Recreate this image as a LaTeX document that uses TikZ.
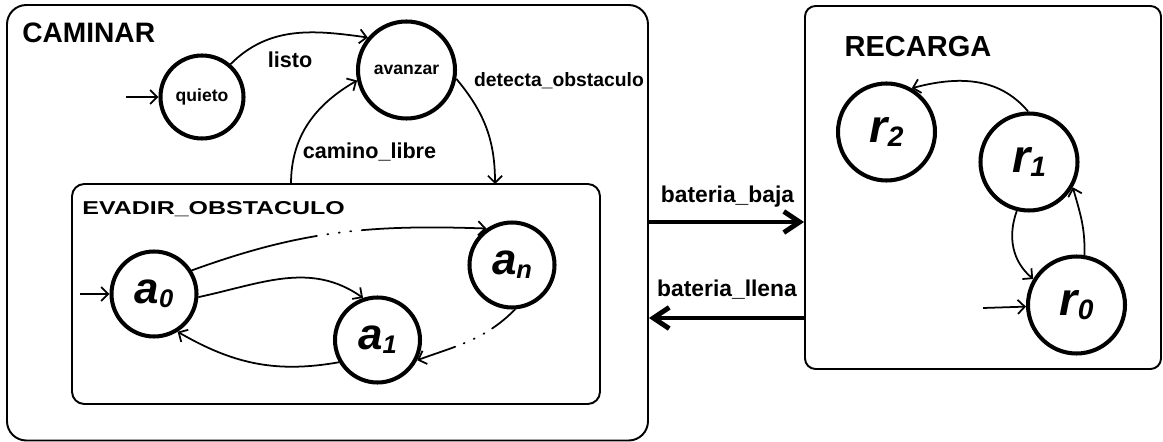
\documentclass[tikz,border=0pt]{standalone}
\usepackage{fontspec}
\setmainfont{Liberation Sans}
\usepackage{tikz}
\usetikzlibrary{arrows.meta,positioning,calc}
\tikzstyle{estado}=[draw,circle,line width=2.3pt,inner sep=0pt]
\tikzstyle{caja}=[draw,line width=1.1pt,inner sep=0pt]
\tikzstyle{trans}=[line width=1pt,-{Straight Barb[length=4pt,width=8pt]}]
\tikzstyle{cambio}=[line width=2.8pt,-{Straight Barb[length=9pt,width=12pt]}]
\tikzstyle{etiq}=[anchor=base,inner sep=0pt,font=\bfseries\fontsize{12.3}{14}\selectfont]
\tikzstyle{titulo}=[inner sep=0pt,font=\bfseries\fontsize{16}{18}\selectfont]
\newcommand{\esta}[1]{{\fontsize{25}{25}\selectfont\bfseries\itshape a\raisebox{-2.3pt}{\fontsize{14.5}{14.5}\selectfont #1}}}
\newcommand{\estr}[1]{{\fontsize{26.5}{26.5}\selectfont\bfseries\itshape r\raisebox{-2.3pt}{\fontsize{16}{16}\selectfont #1}}}

\begin{document}
\begin{tikzpicture}
\useasboundingbox (0,0) rectangle (23.26,-8.84);

% cajas de los estados compuestos
\node [caja,rounded corners=11pt,minimum width=12.82cm,minimum height=8.71cm] (caminar) at (6.55,-4.455) {};
\node [caja,rounded corners=7pt,minimum width=10.56cm,minimum height=4.40cm] (evadir) at (6.72,-5.88) {};
\node [caja,rounded corners=6pt,minimum width=7.12cm,minimum height=7.26cm] (recarga) at (19.66,-3.75) {};
\node [titulo,anchor=west] at (0.44,-0.66) {CAMINAR};
\node [titulo,font=\bfseries\fontsize{16.5}{18}\selectfont] at (18.36,-0.93) {RECARGA};
\node [anchor=base west,inner sep=0pt,font=\bfseries\fontsize{10.6}{12}\selectfont] at (1.64,-4.30) {\scalebox{1.34}[1]{EVADIR\_OBSTACULO}};

% CAMINAR
\node [estado,minimum size=1.66cm,font=\bfseries\fontsize{10}{12}\selectfont] (quieto) at (4.04,-1.94) {quieto};
\node [estado,minimum size=1.94cm,font=\bfseries\fontsize{10}{12}\selectfont] (avanzar) at (8.13,-1.40) {avanzar};
\coordinate (q0) at (2.52,-1.94);
\coordinate (libre) at (5.82,-3.68);
\coordinate (obst) at (9.90,-3.68);
\draw [trans] (q0) -- (quieto);
\draw [trans] (quieto.49) to[out=45,in=172] (avanzar.140);
\draw [trans] (libre) to[out=90,in=210] (avanzar.192);
\draw [trans] (avanzar.-10) to[out=-50,in=90] (obst);
\node [etiq] at (5.80,-1.36) {listo};
\node [etiq] at (7.39,-3.18) {camino\_libre};
\node [etiq,font=\bfseries\fontsize{11}{13}\selectfont] at (11.18,-1.74) {detecta\_obstaculo};

% EVADIR_OBSTACULO
\node [estado,minimum size=1.7cm] (a0) at (3.08,-5.88) {\esta{0}};
\node [estado,minimum size=1.7cm] (a1) at (7.55,-6.80) {\esta{1}};
\node [estado,minimum size=1.7cm] (an) at (10.24,-5.30) {\esta{n}};
\coordinate (a0i) at (1.60,-5.88);
\draw [trans] (a0i) -- (a0);
\draw [trans] (a0.-4) to[out=12,in=145] (a1.109);
\draw [trans] (a1.210) to[out=190,in=-30] (a0.-58);
\draw [trans,line cap=round,dash pattern=on 2.6cm off 0.21cm on 0.6pt off 0.21cm on 0.6pt off 0.21cm on 0.6pt off 0.21cm on 5cm]
  (a0.32) to[out=20,in=178] (an.125);
\draw [trans,line cap=round,dash pattern=on 0.6cm off 0.18cm on 0.6pt off 0.2cm on 0.6pt off 0.2cm on 0.6pt off 0.18cm on 3cm]
  (an.-86) to[out=225,in=20] (a1.-27);

% RECARGA
\node [estado,minimum size=1.94cm] (r2) at (17.73,-2.64) {\estr{2}};
\node [estado,minimum size=1.94cm] (r1) at (20.58,-3.24) {\estr{1}};
\node [estado,minimum size=1.94cm] (r0) at (21.53,-6.10) {\estr{0}};
\coordinate (r0i) at (19.66,-6.16);
\draw [trans] (r0i) -- (r0);
\draw [trans] (r1.91) to[out=130,in=15] (r2.60);
\draw [trans] (r1.-104) to[out=250,in=140] (r0.149);
\draw [trans] (r0.81) to[out=88,in=-74] (r1.-30);

% transiciones entre CAMINAR y RECARGA
\draw [cambio] (caminar.east |- 0,-4.44) -- (recarga.west |- 0,-4.44);
\draw [cambio] (recarga.west |- 0,-6.36) -- (caminar.east |- 0,-6.36);
\node [etiq,font=\bfseries\fontsize{13}{15}\selectfont] at (14.55,-4.06) {bateria\_baja};
\node [etiq,font=\bfseries\fontsize{13}{15}\selectfont] at (14.54,-5.94) {bateria\_llena};
\end{tikzpicture}
\end{document}
